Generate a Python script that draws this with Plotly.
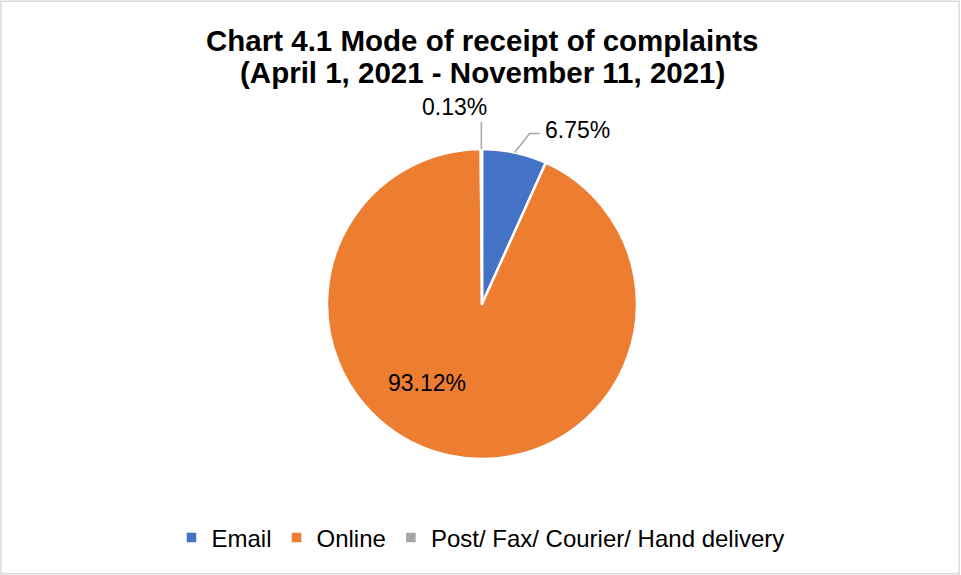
import math
import plotly.graph_objects as go

labels = ["Email", "Online", "Post/ Fax/ Courier/ Hand delivery"]
values = [6.75, 93.12, 0.13]
colors = ["#4472C4", "#ED7D31", "#A5A5A5"]

W, H = 961, 575
cx, cy, r = 482, 304, 155
FONT = "Liberation Sans, Arial, sans-serif"
LEADER = "#A6A6A6"


def px(x):
    return x / W


def py(y):
    return 1 - y / H


fig = go.Figure(go.Pie(
    labels=labels,
    values=values,
    sort=False,
    direction="clockwise",
    rotation=0,
    marker=dict(colors=colors, line=dict(color="white", width=2.5)),
    textinfo="none",
    domain=dict(x=[px(cx - r), px(cx + r)], y=[py(cy + r), py(cy - r)]),
    hoverinfo="label+percent",
))

# slice mid-angles (clockwise from 12 o'clock), derived from the data
total = sum(values)
mids = []
cum = 0.0
for v in values:
    mids.append((cum + v / 2) / total * 360.0)
    cum += v


def edge(angle_deg, rr):
    a = math.radians(angle_deg)
    return cx + rr * math.sin(a), cy - rr * math.cos(a)


shapes = [dict(type="rect", xref="paper", yref="paper", x0=0.001, y0=0.002, x1=0.998, y1=0.998,
               line=dict(color="#D9D9D9", width=1.5), fillcolor="rgba(0,0,0,0)", layer="below")]
annotations = []
lab_font = dict(family=FONT, size=23, color="#000000")

# Email label (outside, leader up-right then horizontal)
x0, y0 = edge(mids[0], r)
x1, y1 = x0 + 15, y0 - 19
x2, y2 = x1 + 10, y1
shapes.append(dict(type="path", xref="paper", yref="paper",
                   path=f"M {px(x0)},{py(y0)} L {px(x1)},{py(y1)} L {px(x2)},{py(y2)}",
                   line=dict(color=LEADER, width=1.5)))
annotations.append(dict(x=px(x2 + 3), y=py(y2 - 3), xref="paper", yref="paper",
                        text=f"{values[0]:.2f}%", showarrow=False,
                        xanchor="left", yanchor="middle", font=lab_font))

# Post/Fax label (outside, vertical leader)
x0, y0 = edge(mids[2], r)
x1, y1 = x0, y0 - 27
shapes.append(dict(type="path", xref="paper", yref="paper",
                   path=f"M {px(x0)},{py(y0)} L {px(x1)},{py(y1)}",
                   line=dict(color=LEADER, width=1.5)))
annotations.append(dict(x=px(x1 + 8), y=py(y1 - 15), xref="paper", yref="paper",
                        text=f"{values[2]:.2f}%", showarrow=False,
                        xanchor="right", yanchor="middle", font=lab_font))

# Online label (inside)
annotations.append(dict(x=px(cx - 55), y=py(cy + 79), xref="paper", yref="paper",
                        text=f"{values[1]:.2f}%", showarrow=False,
                        xanchor="center", yanchor="middle", font=lab_font))

# title lines
annotations.append(dict(x=px(482), y=py(40), xref="paper", yref="paper",
                        text="<b>Chart 4.1 Mode of receipt of complaints</b>", showarrow=False,
                        xanchor="center", yanchor="middle",
                        font=dict(family=FONT, size=29.5, color="#000000")))
annotations.append(dict(x=px(482), y=py(73), xref="paper", yref="paper",
                        text="<b>(April 1, 2021 - November 11, 2021)</b>", showarrow=False,
                        xanchor="center", yanchor="middle",
                        font=dict(family=FONT, size=29.5, color="#000000")))

fig.update_layout(
    width=W, height=H,
    margin=dict(l=0, r=0, t=0, b=0),
    paper_bgcolor="white",
    legend=dict(
        orientation="h", x=0.5, xanchor="center", y=py(538), yanchor="middle",
        font=dict(family=FONT, size=24, color="#000000"),
        itemwidth=30,
    ),
    shapes=shapes,
    annotations=annotations,
)

fig.write_html("out.html", config={"displayModeBar": False},
               post_script="document.body.style.margin='0';")
